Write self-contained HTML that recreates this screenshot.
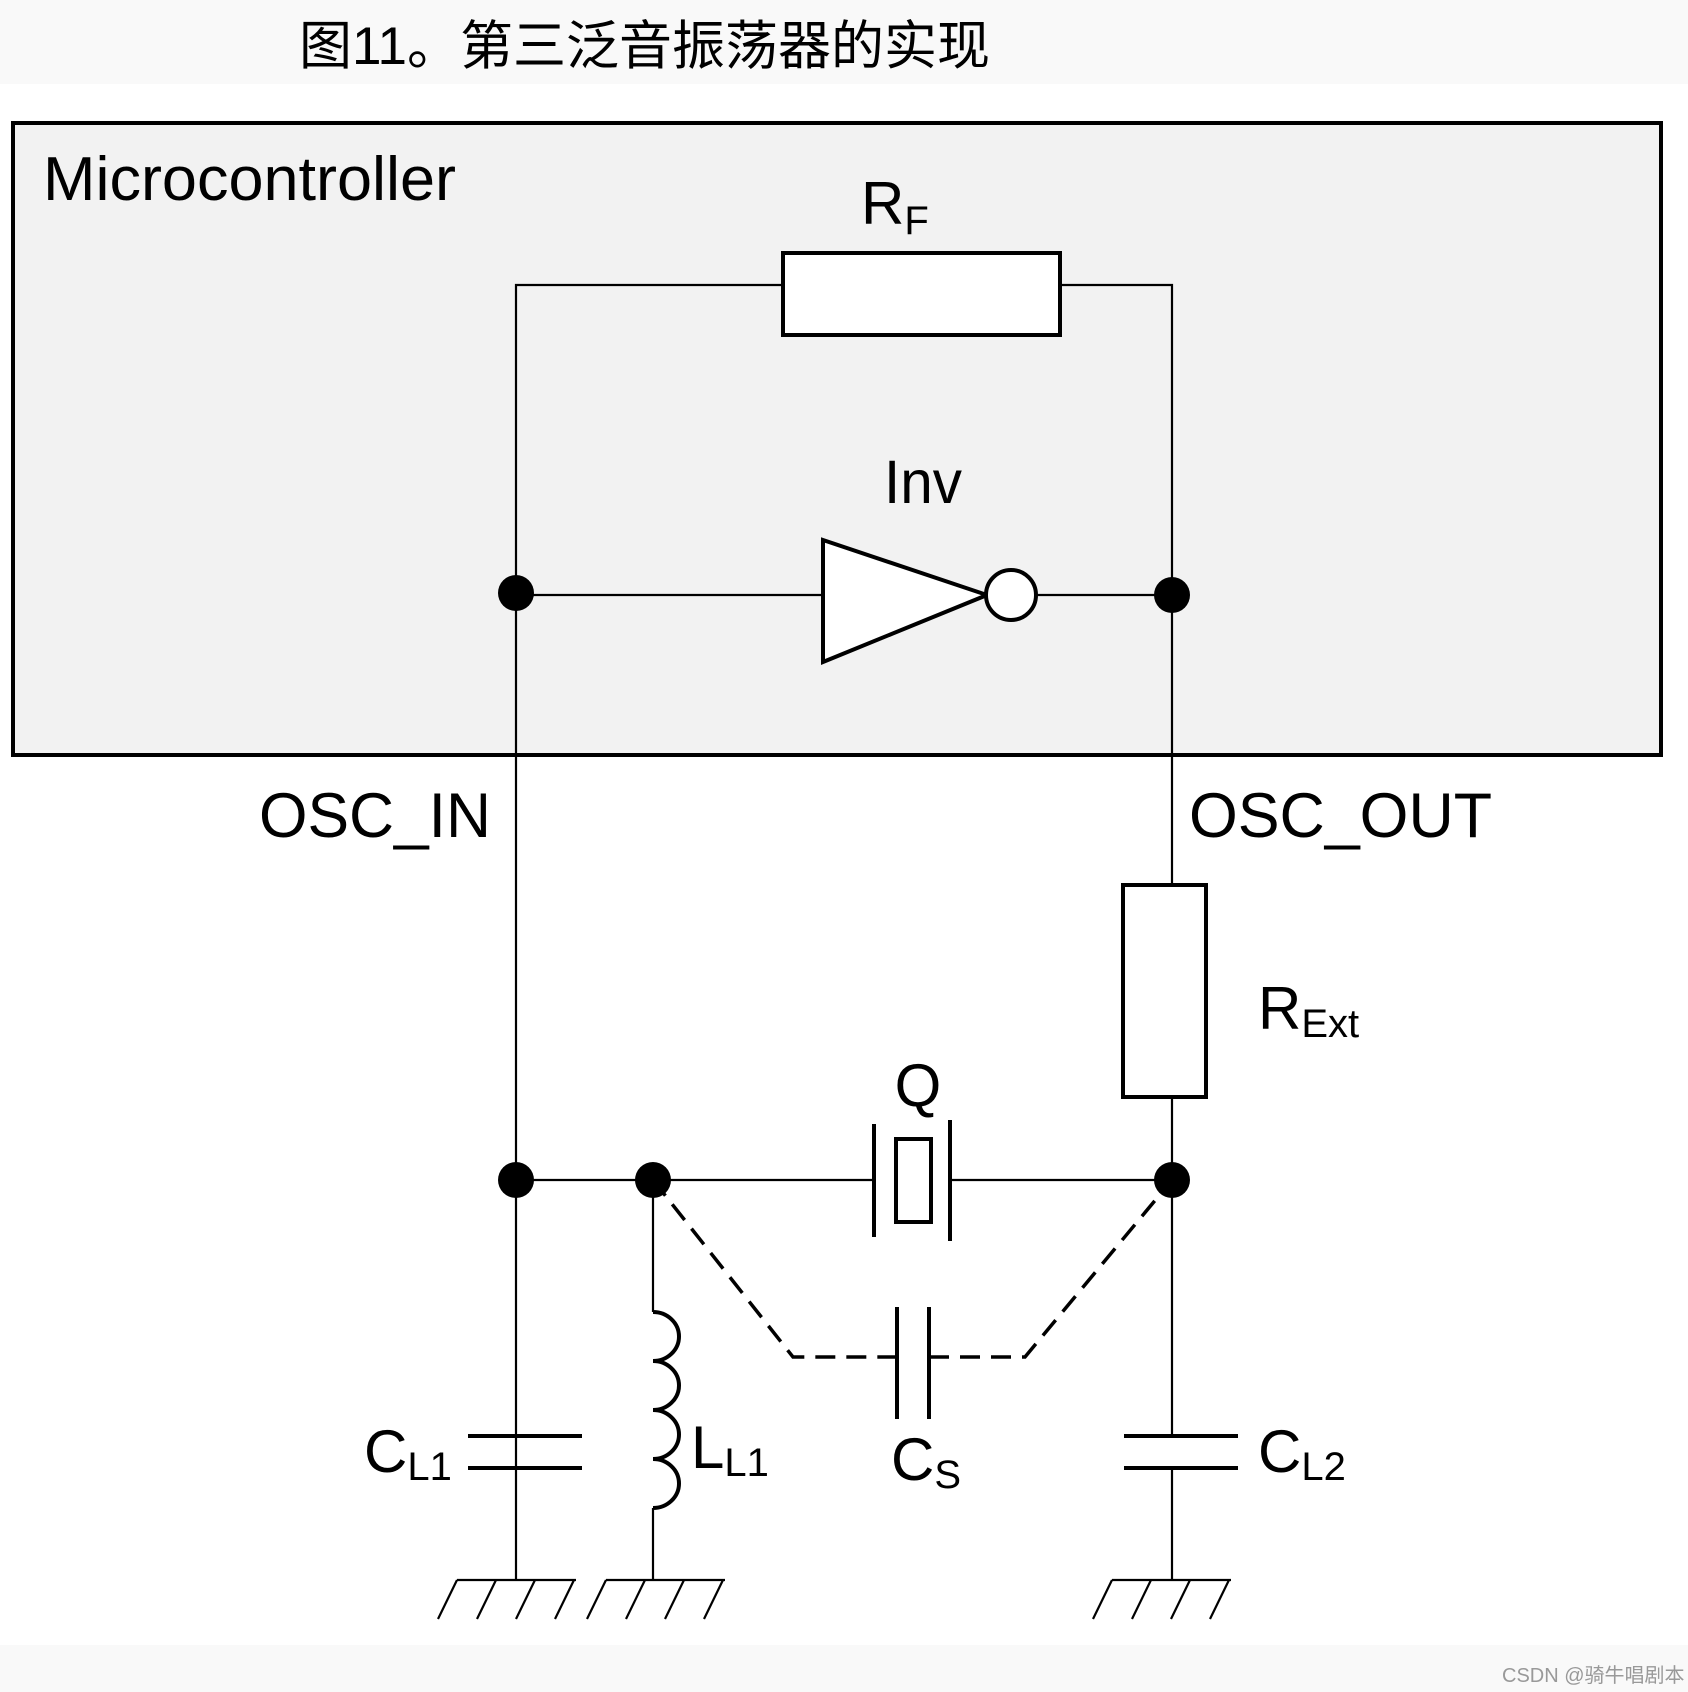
<!DOCTYPE html>
<html><head><meta charset="utf-8"><style>
html,body{margin:0;padding:0;background:#fff;}
svg{display:block;}
text{font-family:"Liberation Sans",Arial,sans-serif;fill:#000;}
</style></head><body>
<svg width="1688" height="1692" viewBox="0 0 1688 1692" xmlns="http://www.w3.org/2000/svg">
<rect x="0" y="0" width="1688" height="84" fill="#f9f9f9"/>
<text x="299" y="64" font-size="53" style="font-family:'Liberation Sans','Noto Sans CJK SC',sans-serif" fill="#222">图11。第三泛音振荡器的实现</text>
<rect x="0" y="1645" width="1688" height="47" fill="#f9f9f9"/>
<text x="1502" y="1682" font-size="20" fill="#999" style="font-family:'Liberation Sans','Noto Sans CJK SC',sans-serif;fill:#999">CSDN @骑牛唱剧本</text>

<rect x="13" y="123" width="1648" height="632" fill="#f2f2f2" stroke="#000" stroke-width="4"/>
<text x="43" y="200" font-size="62" textLength="413" lengthAdjust="spacingAndGlyphs">Microcontroller</text>

<g stroke="#000" stroke-width="2.2" fill="none">
<polyline points="516,1580 516,285 783,285"/>
<polyline points="1060,285 1172,285 1172,886"/>
<line x1="516" y1="595" x2="823" y2="595"/>
<line x1="1036" y1="595" x2="1172" y2="595"/>
<line x1="1172" y1="1097" x2="1172" y2="1436"/>
<line x1="1172" y1="1468" x2="1172" y2="1580"/>
<line x1="516" y1="1180" x2="874" y2="1180"/>
<line x1="950" y1="1180" x2="1172" y2="1180"/>
<line x1="653" y1="1180" x2="653" y2="1312"/>
<line x1="653" y1="1508" x2="653" y2="1580"/>
<!-- grounds -->
<line x1="457" y1="1580" x2="576" y2="1580"/>
<line x1="457" y1="1580" x2="438" y2="1619"/><line x1="496" y1="1580" x2="477" y2="1619"/><line x1="535" y1="1580" x2="516" y2="1619"/><line x1="574" y1="1580" x2="555" y2="1619"/>
<line x1="606" y1="1580" x2="725" y2="1580"/>
<line x1="606" y1="1580" x2="587" y2="1619"/><line x1="645" y1="1580" x2="626" y2="1619"/><line x1="684" y1="1580" x2="665" y2="1619"/><line x1="723" y1="1580" x2="704" y2="1619"/>
<line x1="1112" y1="1580" x2="1231" y2="1580"/>
<line x1="1112" y1="1580" x2="1093" y2="1619"/><line x1="1151" y1="1580" x2="1132" y2="1619"/><line x1="1190" y1="1580" x2="1171" y2="1619"/><line x1="1229" y1="1580" x2="1210" y2="1619"/>
</g>

<g stroke="#000" stroke-width="4" fill="#fff">
<rect x="783" y="253" width="277" height="82"/>
<polygon points="823,540 823,662 987,595"/>
<circle cx="1011" cy="595" r="25"/>
<rect x="1123" y="885" width="83" height="212"/>
<rect x="896" y="1139" width="35" height="83"/>
</g>
<g stroke="#000" stroke-width="4" fill="none">
<line x1="874" y1="1124" x2="874" y2="1237"/>
<line x1="950" y1="1120" x2="950" y2="1241"/>
<line x1="897" y1="1307" x2="897" y2="1419"/>
<line x1="929" y1="1307" x2="929" y2="1419"/>
<line x1="468" y1="1436" x2="582" y2="1436"/>
<line x1="468" y1="1468" x2="582" y2="1468"/>
<line x1="1124" y1="1436" x2="1238" y2="1436"/>
<line x1="1124" y1="1468" x2="1238" y2="1468"/>
<path d="M653,1312 a26,24.5 0 0 1 0,49 a26,24.5 0 0 1 0,49 a26,24.5 0 0 1 0,49 a26,24.5 0 0 1 0,49"/>
</g>
<g stroke="#000" stroke-width="3.5" fill="none" stroke-dasharray="20,11">
<polyline points="653,1180 793,1357 897,1357"/>
<polyline points="929,1357 1025,1357 1172,1180"/>
</g>
<g fill="#000">
<circle cx="516" cy="593" r="18"/>
<circle cx="1172" cy="595" r="18"/>
<circle cx="516" cy="1180" r="18"/>
<circle cx="653" cy="1180" r="18"/>
<circle cx="1172" cy="1180" r="18"/>
</g>

<text x="861" y="224" font-size="60">R<tspan font-size="40" dy="10">F</tspan></text>
<text x="884" y="503" font-size="61" textLength="78" lengthAdjust="spacingAndGlyphs">Inv</text>
<text x="259" y="837" font-size="63" textLength="232" lengthAdjust="spacingAndGlyphs">OSC_IN</text>
<text x="1189" y="837" font-size="63" textLength="303" lengthAdjust="spacingAndGlyphs">OSC_OUT</text>
<text x="1258" y="1029" font-size="60">R<tspan font-size="40" dy="8">Ext</tspan></text>
<text x="918" y="1106" font-size="60" text-anchor="middle">Q</text>
<text x="891" y="1480" font-size="60">C<tspan font-size="40" dy="8">S</tspan></text>
<text x="364" y="1472" font-size="60">C<tspan font-size="40" dy="8">L1</tspan></text>
<text x="691" y="1468" font-size="60">L<tspan font-size="40" dy="8">L1</tspan></text>
<text x="1258" y="1472" font-size="60">C<tspan font-size="40" dy="8">L2</tspan></text>
</svg>
</body></html>
